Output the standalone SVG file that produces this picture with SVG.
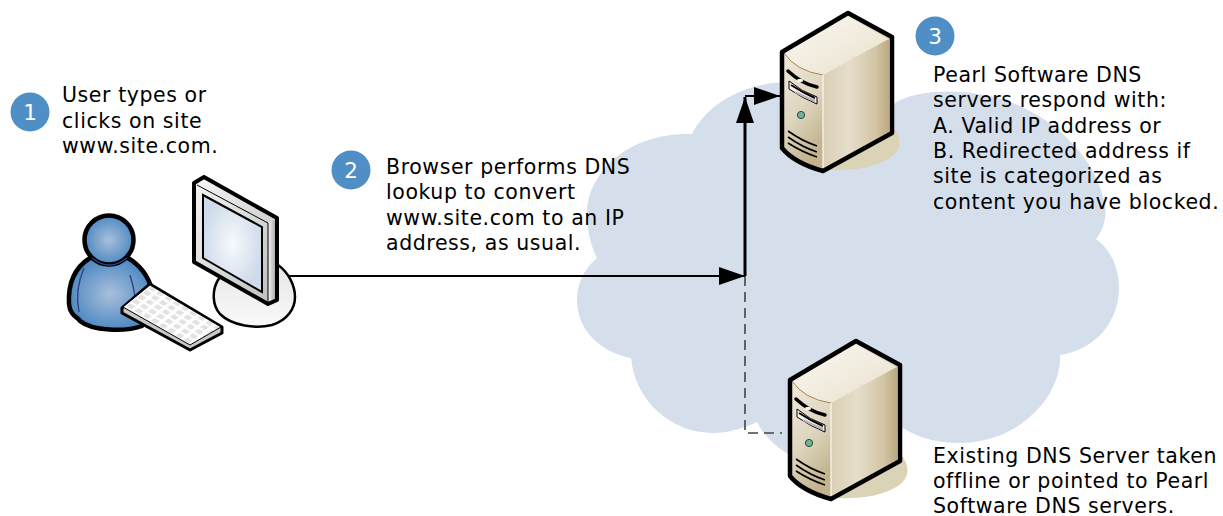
<svg xmlns="http://www.w3.org/2000/svg" xmlns:xlink="http://www.w3.org/1999/xlink" width="1223" height="516" viewBox="0 0 1223 516">
<style>
.t{font-family:"DejaVu Sans",Verdana,sans-serif;font-size:20.5px;letter-spacing:.58px;fill:#000}
.n{font-family:"DejaVu Sans",sans-serif;font-size:21.5px;fill:#fff;text-anchor:middle}
.b{fill:#4f8fc5}
.o{stroke:#000;stroke-linejoin:round;stroke-linecap:round}
</style>
<defs>
<linearGradient id="top" x1="0" y1="0" x2="1" y2="1"><stop offset="0" stop-color="#fbf9f3"/><stop offset="1" stop-color="#e9e0cc"/></linearGradient>
<linearGradient id="front" x1="0" y1="0" x2="0.4" y2="1"><stop offset="0" stop-color="#f0eadc"/><stop offset="0.55" stop-color="#dfd6c0"/><stop offset="1" stop-color="#c3b48f"/></linearGradient>
<linearGradient id="side" x1="0" y1="0" x2="1" y2="0"><stop offset="0" stop-color="#dacfb5"/><stop offset="0.4" stop-color="#e6decb"/><stop offset="0.8" stop-color="#d2c4a4"/><stop offset="1" stop-color="#bcab80"/></linearGradient>
<radialGradient id="skin"><stop offset="0" stop-color="#a9bfdc"/><stop offset="1" stop-color="#4f8ac2"/></radialGradient>
<radialGradient id="scr"><stop offset="0" stop-color="#f7f9fc"/><stop offset="1" stop-color="#cfdbea"/></radialGradient>
<linearGradient id="bez" x1="0" y1="0" x2="1" y2="1"><stop offset="0" stop-color="#f6f6f6"/><stop offset="1" stop-color="#bdbdbd"/></linearGradient>
<linearGradient id="bezs" x1="0" y1="0" x2="1" y2="0"><stop offset="0" stop-color="#f5f5f5"/><stop offset="1" stop-color="#9a9a9a"/></linearGradient>
<linearGradient id="stand" x1="0" y1="0" x2="0" y2="1"><stop offset="0" stop-color="#e6e6e6"/><stop offset="1" stop-color="#fafafa"/></linearGradient>
<pattern id="keys" width="1" height="1" patternUnits="userSpaceOnUse" patternTransform="matrix(8.2,4.9,5.4,-4.4,124,306)"><rect width="1" height="1" fill="#fff"/><rect x="0.18" y="0.16" width="0.64" height="0.68" fill="#e2e2e2"/></pattern>
<marker id="ah" markerUnits="userSpaceOnUse" markerWidth="26" markerHeight="18" refX="26" refY="9" orient="auto"><path d="M0 0L26 9L0 18Z" fill="#000"/></marker>
<g id="srv">
<path d="M892 125Q908 145 890 158Q868 172 825 170Z" fill="#dbd3b5"/>
<path d="M782 52L848 13L892 37V133L823 171C805 166 790 158 782 148Z" fill="#ddd5bb"/>
<path d="M784 53Q796 71 823 75V170Q797 164 784 146Z" fill="url(#front)"/>
<path d="M823 75L889 39V132L823 169Z" fill="url(#side)"/>
<path d="M784 53L848 16L888 39L823 75Q796 71 784 53Z" fill="url(#top)"/>
<path d="M784 53Q796 71 823 75" fill="none" stroke="#a98552" stroke-width="1"/>
<path d="M823 75V169" stroke="#fbf8f0" stroke-width="1.2"/>
<path d="M788 71Q802 84 817 87" fill="none" stroke="#000" stroke-width="3.5" stroke-linecap="round"/>
<ellipse cx="800" cy="80.5" rx="3" ry="1.8" fill="#f4f2ea"/>
<path d="M789 81Q802 92 817 97V104Q802 98 789 89Z" fill="#f6f4ee" stroke="#000" stroke-width="1"/>
<path d="M791 85Q803 93 815 98" fill="none" stroke="#000" stroke-width="2"/>
<path d="M795 92Q805 97 815 101" fill="none" stroke="#b5b5b5" stroke-width="2.5"/>
<circle cx="801" cy="115" r="3.6" fill="#70b597" stroke="#27483c" stroke-width="1"/>
<path d="M788 131Q802 141 817 146M788 137Q802 147 817 152M788 143Q802 152 817 157" fill="none" stroke="#000" stroke-width="1.6"/>
<path d="M782 52L848 13L892 37V133L823 171C805 166 790 158 782 148Z" fill="none" stroke="#000" stroke-width="4.5" stroke-linejoin="round"/>
</g>
</defs>
<g id="cloud"><path fill="#d5dfec" d="M692 134C706 106 740 84 785 82C830 80 870 88 892 105C910 92 945 88 985 95C1040 105 1095 150 1105 205C1107 218 1103 230 1096 239C1112 250 1119 270 1119 288C1119 322 1095 350 1060 355C1062 395 1020 443 960 443C938 443 918 438 903 428L880 470L800 460C782 452 766 440 757 422C740 430 725 433 713 433C670 433 635 400 631 358C600 352 577 330 577 300C577 282 585 268 597 258C590 245 587 228 587 210C590 170 630 132 692 134Z"/></g>
<g id="user-computer">
<g id="monitor-stand"><path class="o" fill="url(#stand)" stroke-width="2.5" d="M218 280C212 290 212 305 220 314C232 326 256 329 272 325C288 320 295 308 295 297C295 285 288 272 278 265L225 270Z"/></g>
<g id="monitor">
<path d="M194 183L204 177L277 218V300L268 304L194 262Z" fill="url(#bez)"/>
<path d="M268 223L277 218V300L268 304Z" fill="url(#bezs)"/>
<path d="M203 195L262 227V292L203 258Z" fill="url(#scr)" stroke="#000" stroke-width="2"/>
<path d="M197 185L268 223V302" fill="none" stroke="#000" stroke-width="1"/>
<path d="M194 183L204 177L277 218V300L268 304L194 262Z" fill="none" stroke="#000" stroke-width="4" stroke-linejoin="round"/>
</g>
<g id="person">
<path class="o" fill="url(#skin)" stroke-width="4.5" d="M90 258C74 268 68 285 69 304C70 316 78 317 80 321C92 331 125 332 142 326L152 290C148 275 138 264 128 258Z"/>
<path d="M84 268C78 282 76 298 79 312M130 275C133 285 135 292 135 300" fill="none" stroke="#2f3f84" stroke-width="1.3"/>
<circle class="o" cx="109" cy="240" r="24.5" fill="url(#skin)" stroke-width="4.5"/>
<path d="M92 258Q109 272 127 258" fill="none" stroke="#2f3f84" stroke-width="1.3"/>
</g>
<g id="keyboard">
<path class="o" fill="#c9c9c9" stroke-width="3" d="M122 308L150 284L222 327L222 333L190 350L122 313Z"/>
<path d="M123 307L150 285L221 327L190 345Z" fill="url(#keys)" stroke="#000" stroke-width="1"/>
</g>
</g>
<use id="server-pearl" xlink:href="#srv" href="#srv"/>
<use id="server-existing" xlink:href="#srv" href="#srv" transform="translate(8 328)"/>
<g id="connectors" fill="none">
<path d="M745 276V433H782" stroke="#444" stroke-width="1.6" stroke-dasharray="10 6"/>
<path d="M289 276H745" stroke="#000" stroke-width="2.2" marker-end="url(#ah)"/>
<path d="M745 276V97" stroke="#000" stroke-width="3" marker-end="url(#ah)"/>
<path d="M745 96H780" stroke="#000" stroke-width="2" marker-end="url(#ah)"/>
</g>
<g id="step1"><circle class="b" cx="30" cy="112" r="19.5"/><text class="n" x="30" y="120">1</text>
<text class="t" x="62" y="102">User types or</text><text class="t" x="62" y="128">clicks on site</text><text class="t" x="62" y="153">www.site.com.</text></g>
<g id="step2"><circle class="b" cx="351" cy="170" r="19.5"/><text class="n" x="351" y="178">2</text>
<text class="t" x="386" y="174">Browser performs DNS</text><text class="t" x="386" y="199">lookup to convert</text><text class="t" x="386" y="225">www.site.com to an IP</text><text class="t" x="386" y="250">address, as usual.</text></g>
<g id="step3"><circle class="b" cx="935" cy="36" r="19.5"/><text class="n" x="935" y="44">3</text>
<text class="t" x="933" y="82">Pearl Software DNS</text><text class="t" x="933" y="107">servers respond with:</text><text class="t" x="933" y="133">A. Valid IP address or</text><text class="t" x="933" y="158">B. Redirected address if</text><text class="t" x="933" y="183">site is categorized as</text><text class="t" x="933" y="209">content you have blocked.</text></g>
<g id="note"><text class="t" x="933" y="463">Existing DNS Server taken</text><text class="t" x="933" y="488">offline or pointed to Pearl</text><text class="t" x="933" y="513">Software DNS servers.</text></g>
</svg>
